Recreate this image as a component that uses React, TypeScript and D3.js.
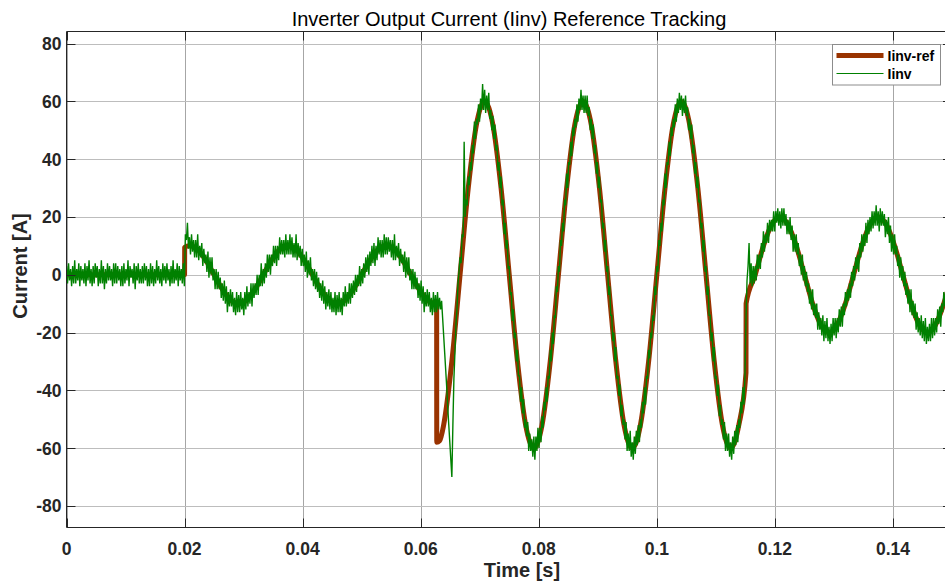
import { useEffect, useRef } from "react";
import * as d3 from "d3";

// axis setup
const X_DOMAIN: [number, number] = [0, 0.15];
const Y_DOMAIN: [number, number] = [-87.5, 84.2];
const X_TICKS = [0, 0.02, 0.04, 0.06, 0.08, 0.1, 0.12, 0.14];
const X_TICK_LABELS = ["0", "0.02", "0.04", "0.06", "0.08", "0.1", "0.12", "0.14"];
const Y_TICKS = [-80, -60, -40, -20, 0, 20, 40, 60, 80];
const Y_TICK_LABELS = ["-80", "-60", "-40", "-20", "0", "20", "40", "60", "80"];
const SERIES_NAMES = ["Iinv-ref", "Iinv"];

// Iinv-ref : [time (s), current (A)]
const iinvRef: [number, number][] = [
  [0, 0], [0.02, 0], [0.02002, 9.5],
  [0.020833, 10], [0.022222, 8.7], [0.023611, 5], [0.025, 0], [0.026389, -5], [0.027778, -8.7],
  [0.029167, -10], [0.030556, -8.7], [0.031944, -5], [0.033333, 0], [0.034722, 5], [0.036111, 8.7],
  [0.0375, 10], [0.038889, 8.7], [0.040278, 5], [0.041667, 0], [0.043056, -5], [0.044444, -8.7],
  [0.045833, -10], [0.047222, -8.7], [0.048611, -5], [0.05, 0], [0.051389, 5], [0.052778, 8.7],
  [0.054167, 10], [0.055556, 8.7], [0.056944, 5], [0.058333, 0], [0.059722, -5], [0.061111, -8.7],
  [0.0625, -10], [0.0627, -10], [0.06272, -58], [0.0632, -57.5],
  [0.063889, -52], [0.065278, -30], [0.066667, 0], [0.068056, 30], [0.069444, 52], [0.070833, 60],
  [0.072222, 52], [0.073611, 30], [0.075, 0], [0.076389, -30], [0.077778, -52], [0.079167, -60],
  [0.080556, -52], [0.081944, -30], [0.083333, 0], [0.084722, 30], [0.086111, 52], [0.0875, 60],
  [0.088889, 52], [0.090278, 30], [0.091667, 0], [0.093056, -30], [0.094444, -52], [0.095833, -60],
  [0.097222, -52], [0.098611, -30], [0.1, 0], [0.101389, 30], [0.102778, 52], [0.104167, 60],
  [0.105556, 52], [0.106944, 30], [0.108333, 0], [0.109722, -30], [0.111111, -52], [0.1125, -60],
  [0.113889, -52], [0.1151, -34], [0.11512, -10],
  [0.116667, 0], [0.118056, 10], [0.119444, 17.3], [0.120833, 20], [0.122222, 17.3], [0.123611, 10],
  [0.125, 0], [0.126389, -10], [0.127778, -17.3], [0.129167, -20], [0.130556, -17.3], [0.131944, -10],
  [0.133333, 0], [0.134722, 10], [0.136111, 17.3], [0.1375, 20], [0.138889, 17.3], [0.140278, 10],
  [0.141667, 0], [0.143056, -10], [0.144444, -17.3], [0.145833, -20], [0.147222, -17.3], [0.148611, -10],
  [0.15, 0],
];

// Iinv : measured current (A), one sample every 1/5760 s, from t = 0
const IINV_DT = 1 / 5760;
const iinvSamples: number[] = [
  // 0 .. 0.02 s, idle ripple
  3, -3, 4, -2, 2, -4, 3, -3, 5, -3, 2, -2, 4, -4, 3, -2, 2, -3, 4, -4, 3, -2, 5, -3,
  2, -4, 3, -3, 4, -1, 3, -4, 2, -3, 5, -3, 3, -5, 2, -3, 4, -2, 3, -2, 2, -4, 4, -3,
  4, -3, 3, -2, 2, -4, 3, -4, 4, -3, 2, -2, 5, -4, 3, -1, 2, -3, 4, -5, 3, -2, 4, -3,
  2, -3, 3, -3, 4, -2, 3, -4, 2, -4, 4, -3, 3, -4, 2, -3, 5, -2, 3, -3, 2, -4, 4, -2,
  3, -3, 4, -2, 2, -4, 3, -3, 5, -3, 2, -2, 4, -4, 3, -2, 2, -3, 4, -4,
  // 10 A tracking
  14, 12, 18, 9,
  13, 7, 14, 8, 12, 6, 12, 6, 14, 5, 10, 6, 11, 3, 9, 4, 7, 1, 8, -1, 6, 0, 6, -2,
  2, -5, 2, -5, 1, -5, -1, -8, -3, -9, -2, -10, -4, -13, -6, -11, -5, -11, -6, -13, -8, -14, -6, -13,
  -7, -13, -6, -12, -8, -14, -6, -12, -4, -11, -6, -10, -3, -11, -3, -8, -3, -7, 0, -7, 0, -4, 4, -4,
  2, -3, 4, -1, 7, 1, 7, 0, 7, 3, 10, 4, 10, 3, 10, 5, 13, 7, 12, 7, 12, 6, 14, 7,
  12, 7, 14, 7, 13, 6, 11, 6, 14, 5, 11, 6, 10, 3, 9, 3, 7, 1, 8, -1, 5, 0, 6, -2,
  2, -4, 2, -5, 1, -6, -1, -8, -3, -9, -2, -10, -4, -12, -6, -11, -5, -12, -6, -13, -8, -13, -6, -14,
  -7, -13, -6, -13, -8, -14, -6, -11, -4, -11, -6, -10, -3, -10, -3, -8, -2, -7, 0, -6, 0, -4, 3, -4,
  2, -3, 4, -1, 6, 1, 7, 0, 8, 3, 10, 4, 11, 3, 10, 5, 13, 7, 12, 6, 12, 6, 14, 7,
  13, 7, 13, 8, 12, 6, 12, 5, 14, 5, 10, 6, 11, 3, 9, 4, 7, 1, 8, -1, 6, 0, 6, -2,
  2, -5, 2, -5, 1, -5, -1, -8, -3, -9, -2, -10, -4, -13, -6, -11, -5, -11, -6, -13, -8, -14, -6, -13,
  -7, -13, -6, -12, -8, -12,
  // step to 60 A: overshoot
  -9, -15, -21, -27, -33, -39, -46, -52, -58, -64, -70, -52,
  -36, -27, -17, -12, -3, 1, 6, 4, 14, 13, 46, 20,
  // 60 A tracking
  26, 24, 34, 31, 39, 36, 45, 42, 53, 47, 54, 52, 59, 53, 61, 57, 66, 57, 64, 56, 62, 57, 63, 54,
  57, 50, 55, 47, 52, 43, 45, 36, 39, 30, 34, 24, 26, 14, 18, 9, 12, 2, 3, -7, -6, -16, -12, -22,
  -20, -30, -26, -35, -35, -44, -39, -48, -43, -53, -50, -56, -51, -61, -55, -61, -57, -63, -56, -64, -56, -61, -53, -60,
  -53, -58, -49, -53, -44, -47, -39, -44, -35, -36, -26, -30, -20, -24, -14, -15, -4, -6,
  3, 1, 12, 10, 18, 15, 26, 24, 35, 30, 39, 38, 46, 41, 51, 48, 54, 51, 59, 53, 61, 57, 64, 57,
  62, 56, 62, 56, 62, 55, 58, 50, 54, 47, 52, 42, 45, 35, 39, 30, 34, 25, 26, 16, 18, 8, 12, 1,
  3, -7, -4, -14, -14, -23, -20, -30, -25, -36, -35, -42, -38, -49, -45, -52, -50, -57, -51, -61, -55, -61, -54, -63,
  -58, -64, -56, -62, -54, -59, -52, -58, -50, -53, -44, -48, -39, -45, -35, -36, -26, -29, -20, -22, -14, -16, -4, -7,
  3, 1, 12, 10, 18, 15, 26, 24, 35, 30, 39, 38, 46, 41, 51, 48, 54, 51, 59, 53, 61, 56, 63, 57,
  62, 55, 61, 56, 62, 55, 58, 50, 54, 47, 52, 42, 45, 35, 39, 30, 34, 25, 26, 16, 18, 8, 12, 1,
  3, -7, -4, -14, -14, -23, -20, -30, -25, -36, -35, -42, -38, -49, -45, -52, -50, -57, -51, -61, -55, -61, -55, -63,
  -58, -64, -56, -62, -54, -59, -52, -58, -50, -53, -44, -48, -39, -45, -35,
  // step to 20 A
  -15, -2, 3, 11, -3, 4, -4, 3, -3,
  // 20 A tracking
  3, -2, 7, 2, 7, 2, 11, 6, 15, 8, 14, 11, 18, 11, 19, 15, 19, 15, 22, 15, 22, 18, 23, 17,
  22, 16, 23, 17, 23, 17, 21, 14, 19, 14, 20, 12, 17, 8, 14, 8, 14, 7, 11, 3, 7, 0, 7, -2,
  3, -4, 1, -6, -3, -10, -5, -12, -5, -14, -10, -15, -10, -19, -13, -19, -15, -21, -14, -23, -16, -22, -15, -23,
  -18, -24, -17, -23, -15, -21, -15, -22, -15, -20, -12, -18, -11, -18, -10, -14, -6, -11, -5, -9, -3, -8, 1, -4,
  3, -2, 6, 2, 7, 1, 11, 6, 14, 8, 14, 10, 18, 11, 19, 14, 20, 15, 22, 16, 22, 17, 24, 17,
  22, 15, 23, 17, 22, 17, 21, 13, 19, 14, 20, 11, 17, 8, 14, 7, 14, 7, 10, 3, 7, -1, 6, -2,
  3, -4, 1, -7, -3, -10, -5, -13, -5, -14, -9, -15, -10, -19, -13, -20, -15, -21, -14, -22, -16, -23, -15, -24,
  -18, -23, -17, -23, -15, -22, -15, -21, -15, -20, -12, -17, -11, -18, -10, -13, -6, -11, -5, -9, -3, -7, 1, -4,
  3,
];

export default function App() {
  const svgRef = useRef<SVGSVGElement | null>(null);

  useEffect(() => {
    if (!svgRef.current) return;
    document.body.style.margin = "0";

    const width = 945;
    const height = 585;
    const left = 66.5;
    const right = 952;
    const top = 31.5;
    const bottom = 527.5;
    const axisColor = "#262626";
    const font = "'Liberation Sans', Arial, Helvetica, sans-serif";

    const svg = d3.select(svgRef.current).attr("width", width).attr("height", height);
    svg.selectAll("*").remove();

    const x = d3.scaleLinear().domain(X_DOMAIN).range([left, right]);
    const y = d3.scaleLinear().domain(Y_DOMAIN).range([bottom, top]);

    svg.append("rect").attr("width", width).attr("height", height).attr("fill", "#fff");

    svg
      .append("defs")
      .append("clipPath")
      .attr("id", "plot-clip")
      .append("rect")
      .attr("x", left)
      .attr("y", top)
      .attr("width", right - left)
      .attr("height", bottom - top);

    // grid
    const grid = svg.append("g");
    grid
      .selectAll(".gx")
      .data(X_TICKS)
      .join("line")
      .attr("x1", (d: number) => Math.round(x(d)) + 0.5)
      .attr("x2", (d: number) => Math.round(x(d)) + 0.5)
      .attr("y1", top)
      .attr("y2", bottom)
      .attr("stroke", "#a6a6a6")
      .attr("stroke-width", 1);
    grid
      .selectAll(".gy")
      .data(Y_TICKS)
      .join("line")
      .attr("x1", left)
      .attr("x2", right)
      .attr("y1", (d: number) => Math.round(y(d)) + 0.5)
      .attr("y2", (d: number) => Math.round(y(d)) + 0.5)
      .attr("stroke", "#bdbdbd")
      .attr("stroke-width", 1);

    // data
    const plot = svg.append("g").attr("clip-path", "url(#plot-clip)");

    const refLine = d3
      .line<[number, number]>()
      .x((d: [number, number]) => x(d[0]))
      .y((d: [number, number]) => y(d[1]))
      .curve(d3.curveMonotoneX);

    plot
      .append("path")
      .datum(iinvRef)
      .attr("fill", "none")
      .attr("stroke", "#993300")
      .attr("stroke-width", 5)
      .attr("stroke-linejoin", "round")
      .attr("d", refLine);

    const measLine = d3
      .line<number>()
      .x((_: number, i: number) => x(i * IINV_DT))
      .y((d: number) => y(d));

    plot
      .append("path")
      .datum(iinvSamples)
      .attr("fill", "none")
      .attr("stroke", "#008000")
      .attr("stroke-width", 1.4)
      .attr("stroke-linejoin", "miter")
      .attr("stroke-miterlimit", 2)
      .attr("d", measLine);

    // axes box + inward ticks
    const axes = svg.append("g").attr("stroke", axisColor).attr("stroke-width", 1);
    axes.append("line").attr("x1", left).attr("x2", right).attr("y1", bottom).attr("y2", bottom);
    axes.append("line").attr("x1", left).attr("x2", right).attr("y1", top).attr("y2", top);
    axes.append("line").attr("x1", left).attr("x2", left).attr("y1", top).attr("y2", bottom);
    axes.append("line").attr("x1", right).attr("x2", right).attr("y1", top).attr("y2", bottom);

    const tickLen = 9;
    X_TICKS.forEach((t) => {
      const px = Math.round(x(t)) + 0.5;
      axes.append("line").attr("x1", px).attr("x2", px).attr("y1", bottom).attr("y2", bottom - tickLen);
      axes.append("line").attr("x1", px).attr("x2", px).attr("y1", top).attr("y2", top + tickLen);
    });
    Y_TICKS.forEach((t) => {
      const py = Math.round(y(t)) + 0.5;
      axes.append("line").attr("x1", left).attr("x2", left + tickLen).attr("y1", py).attr("y2", py);
      axes.append("line").attr("x1", right).attr("x2", right - tickLen).attr("y1", py).attr("y2", py);
    });

    // tick labels
    svg
      .append("g")
      .selectAll("text")
      .data(X_TICKS)
      .join("text")
      .attr("x", (d: number) => x(d))
      .attr("y", 554.5)
      .attr("text-anchor", "middle")
      .attr("font-family", font)
      .attr("font-weight", "bold")
      .attr("font-size", 17.5)
      .attr("fill", axisColor)
      .text((_: number, i: number) => X_TICK_LABELS[i]);

    svg
      .append("g")
      .selectAll("text")
      .data(Y_TICKS)
      .join("text")
      .attr("x", 61.5)
      .attr("y", (d: number) => y(d) + 6.5)
      .attr("text-anchor", "end")
      .attr("font-family", font)
      .attr("font-weight", "bold")
      .attr("font-size", 17.5)
      .attr("fill", axisColor)
      .text((_: number, i: number) => Y_TICK_LABELS[i]);

    // title and axis labels
    svg
      .append("text")
      .attr("x", 509)
      .attr("y", 26)
      .attr("text-anchor", "middle")
      .attr("font-family", font)
      .attr("font-size", 20)
      .attr("fill", "#000")
      .text("Inverter Output Current (Iinv) Reference Tracking");

    svg
      .append("text")
      .attr("x", 522)
      .attr("y", 577)
      .attr("text-anchor", "middle")
      .attr("font-family", font)
      .attr("font-weight", "bold")
      .attr("font-size", 20)
      .attr("fill", axisColor)
      .text("Time [s]");

    svg
      .append("text")
      .attr("transform", "translate(26.5,266) rotate(-90)")
      .attr("text-anchor", "middle")
      .attr("font-family", font)
      .attr("font-weight", "bold")
      .attr("font-size", 20)
      .attr("fill", axisColor)
      .text("Current [A]");

    // legend
    const legend = svg.append("g");
    legend
      .append("rect")
      .attr("x", 832.5)
      .attr("y", 44.5)
      .attr("width", 108)
      .attr("height", 40.5)
      .attr("fill", "#fff")
      .attr("stroke", "#8c8c8c")
      .attr("stroke-width", 1);
    const legendRows = [
      { y: 55.5, color: "#993300", w: 5.2 },
      { y: 73.5, color: "#008000", w: 1.1 },
    ];
    legendRows.forEach((row, i) => {
      legend
        .append("line")
        .attr("x1", 836.5)
        .attr("x2", 883.5)
        .attr("y1", row.y)
        .attr("y2", row.y)
        .attr("stroke", row.color)
        .attr("stroke-width", row.w);
      legend
        .append("text")
        .attr("x", 887.5)
        .attr("y", row.y + 5)
        .attr("font-family", font)
        .attr("font-weight", "bold")
        .attr("font-size", 14)
        .attr("fill", "#000")
        .text(SERIES_NAMES[i]);
    });
  }, []);

  return (
    <svg
      ref={svgRef}
      style={{ position: "absolute", left: 0, top: 0, display: "block" }}
    ></svg>
  );
}
